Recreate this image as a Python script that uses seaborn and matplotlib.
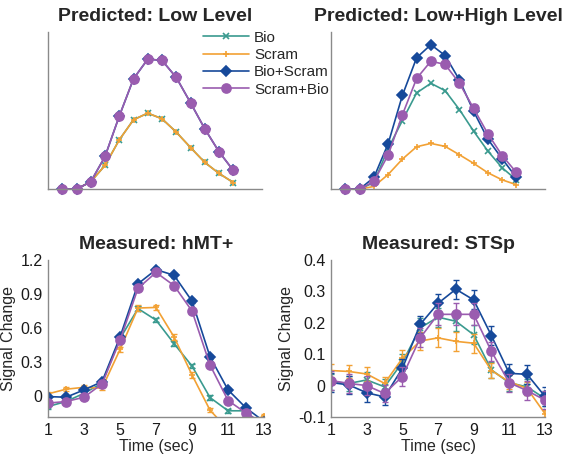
import numpy as np
import pandas as pd
import seaborn as sns
import matplotlib.pyplot as plt

time = list(range(1, 14))
conds = ["Bio", "Scram", "Bio+Scram", "Scram+Bio"]

# Predicted: Low Level (arbitrary units)
low_bio = [0, 0, 0.047, 0.151, 0.314, 0.442, 0.484, 0.448, 0.363, 0.265, 0.170, 0.100, 0.042]
low_scram = [0, 0, 0.047, 0.151, 0.314, 0.442, 0.484, 0.448, 0.363, 0.265, 0.170, 0.100, 0.042]
low_bioscram = [0, 0, 0.047, 0.208, 0.465, 0.703, 0.828, 0.820, 0.711, 0.550, 0.384, 0.238, 0.119]
low_scrambio = [0, 0, 0.047, 0.208, 0.465, 0.703, 0.828, 0.820, 0.711, 0.550, 0.384, 0.238, 0.119]

# Predicted: Low+High Level
high_bio = [0, 0, 0.042, 0.258, 0.437, 0.613, 0.674, 0.627, 0.507, 0.369, 0.242, 0.136, 0.059]
high_scram = [0, 0, 0.017, 0.093, 0.191, 0.270, 0.291, 0.272, 0.219, 0.164, 0.104, 0.059, 0.028]
high_bioscram = [0, 0, 0.074, 0.289, 0.597, 0.837, 0.920, 0.851, 0.696, 0.495, 0.318, 0.193, 0.074]
high_scrambio = [0, 0, 0.049, 0.217, 0.473, 0.705, 0.815, 0.794, 0.675, 0.514, 0.352, 0.214, 0.106]

# Measured: hMT+
mt_bio = [-0.097, -0.053, 0.020, 0.110, 0.505, 0.770, 0.668, 0.460, 0.261, -0.018, -0.135, -0.135, -0.300]
mt_scram = [0.015, 0.056, 0.073, 0.065, 0.408, 0.775, 0.780, 0.519, 0.182, -0.130, -0.300, -0.260, -0.180]
mt_bioscram = [-0.009, -0.015, 0.050, 0.123, 0.519, 0.990, 1.115, 1.065, 0.836, 0.343, 0.050, -0.110, -0.230]
mt_scrambio = [-0.067, -0.053, -0.015, 0.103, 0.490, 0.950, 1.090, 0.974, 0.748, 0.270, -0.044, -0.155, -0.250]
mt_bio_se = [0.02, 0.02, 0.02, 0.02, 0.02, 0.02, 0.02, 0.02, 0.02, 0.02, 0.02, 0.02, 0.02]
mt_scram_se = [0.02, 0.02, 0.02, 0.02, 0.025, 0.025, 0.025, 0.025, 0.025, 0.02, 0.02, 0.02, 0.02]
mt_bioscram_se = [0.015, 0.015, 0.015, 0.015, 0.02, 0.02, 0.02, 0.02, 0.02, 0.02, 0.015, 0.015, 0.015]
mt_scrambio_se = [0.015, 0.015, 0.015, 0.015, 0.02, 0.02, 0.02, 0.02, 0.02, 0.02, 0.015, 0.015, 0.015]

# Measured: STSp
sts_bio = [0.012, 0.007, 0.018, -0.004, 0.074, 0.184, 0.218, 0.205, 0.162, 0.050, 0.009, -0.004, -0.041]
sts_scram = [0.048, 0.045, 0.037, 0.007, 0.087, 0.142, 0.152, 0.141, 0.135, 0.048, 0.012, -0.009, -0.089]
sts_bioscram = [0.010, 0.002, -0.023, -0.036, 0.055, 0.195, 0.262, 0.307, 0.273, 0.159, 0.039, 0.036, -0.034]
sts_scrambio = [0.016, 0.007, 0.000, -0.025, 0.029, 0.152, 0.227, 0.227, 0.227, 0.109, 0.009, -0.016, -0.046]
sts_bio_se = [0.025, 0.025, 0.025, 0.025, 0.028, 0.03, 0.03, 0.03, 0.03, 0.025, 0.025, 0.025, 0.025]
sts_scram_se = [0.02, 0.022, 0.022, 0.022, 0.025, 0.028, 0.03, 0.03, 0.03, 0.025, 0.022, 0.022, 0.01]
sts_bioscram_se = [0.03, 0.03, 0.028, 0.025, 0.03, 0.028, 0.03, 0.03, 0.03, 0.03, 0.03, 0.03, 0.03]
sts_scrambio_se = [0.03, 0.03, 0.03, 0.028, 0.03, 0.03, 0.035, 0.035, 0.035, 0.03, 0.028, 0.03, 0.03]

colors = {"Bio": "#3a9a8f", "Scram": "#f2a134", "Bio+Scram": "#16499a", "Scram+Bio": "#9a5caf"}
markers = {"Bio": "x", "Scram": "+", "Bio+Scram": "D", "Scram+Bio": "o"}
msize = {"Bio": 4, "Scram": 5, "Bio+Scram": 5.2, "Scram+Bio": 6.5}

sns.set_style("white")
plt.rcParams["font.family"] = ["Liberation Sans", "DejaVu Sans"]

fig = plt.figure(figsize=(5.67, 4.59), dpi=100)
ax_tl = fig.add_axes([0.0847, 0.588, 0.377, 0.342])
ax_tr = fig.add_axes([0.584, 0.588, 0.377, 0.342])
ax_bl = fig.add_axes([0.0847, 0.0915, 0.381, 0.342])
ax_br = fig.add_axes([0.584, 0.0915, 0.377, 0.342])

panels = [
    (ax_tl, "Predicted: Low Level", [low_bio, low_scram, low_bioscram, low_scrambio], None),
    (ax_tr, "Predicted: Low+High Level", [high_bio, high_scram, high_bioscram, high_scrambio], None),
    (ax_bl, "Measured: hMT+", [mt_bio, mt_scram, mt_bioscram, mt_scrambio],
     [mt_bio_se, mt_scram_se, mt_bioscram_se, mt_scrambio_se]),
    (ax_br, "Measured: STSp", [sts_bio, sts_scram, sts_bioscram, sts_scrambio],
     [sts_bio_se, sts_scram_se, sts_bioscram_se, sts_scrambio_se]),
]

for ax, title, series, errs in panels:
    predicted = errs is None
    for i, c in enumerate(conds):
        df = pd.DataFrame({"time": time, "value": series[i]})
        if errs is not None:
            ax.errorbar(df["time"], df["value"], yerr=errs[i], fmt="none",
                        ecolor=colors[c], elinewidth=1, capsize=2, capthick=1)
        sns.lineplot(data=df, x="time", y="value", ax=ax, color=colors[c], lw=1.2,
                     marker=markers[c], markersize=msize[c],
                     markeredgecolor=colors[c], markeredgewidth=1.2,
                     label=c, clip_on=not predicted)
    ax.set_title(title, fontsize=14, fontweight="bold", pad=8)
    for s in ["top", "right"]:
        ax.spines[s].set_visible(False)
    for s in ["left", "bottom"]:
        ax.spines[s].set_color("#8a8a8a")
        ax.spines[s].set_linewidth(1)
    if ax.get_legend() is not None:
        ax.get_legend().remove()
    if predicted:
        ax.set_xlim(0, 15)
        ax.set_ylim(0, 1)
        ax.set_xticks([])
        ax.set_yticks([])
        ax.set_xlabel("")
        ax.set_ylabel("")
    else:
        ax.set_xlim(1, 13)
        ax.set_xticks([1, 3, 5, 7, 9, 11, 13])
        ax.set_xlabel("Time (sec)", fontsize=11.5, labelpad=1)
        ax.set_ylabel("Signal Change", fontsize=11.5, labelpad=3)
        ax.tick_params(length=0, labelsize=11.5, pad=4, colors="#1a1a1a")

ax_bl.set_ylim(-0.19, 1.2)
ax_bl.set_yticks([0, 0.3, 0.6, 0.9, 1.2])
ax_bl.set_yticklabels(["0", "0.3", "0.6", "0.9", "1.2"])
ax_br.set_ylim(-0.1, 0.4)
ax_br.set_yticks([-0.1, 0, 0.1, 0.2, 0.3, 0.4])
ax_br.set_yticklabels(["-0.1", "0", "0.1", "0.2", "0.3", "0.4"])

ax_tl.legend(loc="upper left", bbox_to_anchor=(0.724, 1.01), frameon=False,
             fontsize=11, handlelength=3.0, handletextpad=0.35, labelspacing=0.22,
             borderpad=0, borderaxespad=0)

fig.savefig("out.png", dpi=100)
